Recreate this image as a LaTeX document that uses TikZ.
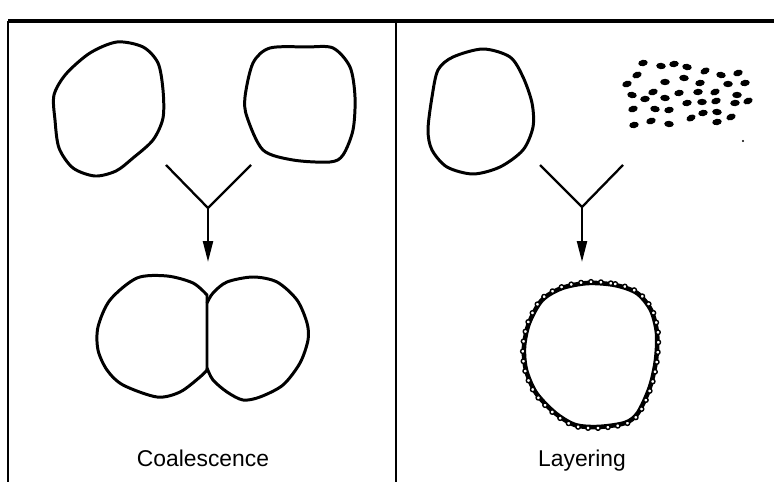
\documentclass[tikz,border=0pt]{standalone}
\usepackage{fontspec}
\setmainfont{Liberation Sans}
\usetikzlibrary{arrows.meta,decorations.markings}

\begin{document}
\begin{tikzpicture}[
  x=0.02cm, y=-0.02cm,
  drop/.style={line width=1.7pt, line join=round},
  frame/.style={line width=1pt},
  arm/.style={line width=1.3pt},
  arr/.style={-{Triangle[length=4.2mm, width=2mm]}, line width=1.3pt},
  lbl/.style={anchor=base, font=\fontsize{13}{15}\selectfont},
  bead/.style={circle, draw, fill=white, line width=0.8pt, inner sep=0pt, minimum size=0.9mm},
  beaded/.style={postaction={decorate, decoration={markings,
      mark=between positions 0 and 1 step 0.022 with {\node[bead] at (0,0.6pt) {};}}}}]
\useasboundingbox (0,0) rectangle (774,482);
\draw[frame, line width=1.8pt] (8,21) -- (774,21);
\draw[frame] (8,21) -- (8,482);
\draw[frame] (396,21) -- (396,482);

% coalescence
\draw[drop] plot[smooth cycle] coordinates {(117,42) (143,47) (158,63) (163,90) (163,118)
  (153,140) (133,158) (116,171) (95,176) (73,168) (59,148) (55,120) (54,95) (66,74) (90,53)};
\draw[drop] plot[smooth cycle] coordinates {(270,48) (307,47) (333,48) (350,67) (355,97)
  (353,130) (343,155) (330,162) (293,160) (263,150) (247,117) (245,97) (253,63)};
\coordinate (la) at (166,165);
\coordinate (ra) at (251,165);
\coordinate (jl) at (208,208);
\coordinate (tl) at (208,262);
\draw[arm] (la) -- (jl) -- (ra);
\draw[arr] (jl) -- (tl);
\draw[drop] plot[smooth] coordinates {(207,295) (193,283) (167,276) (137,278) (110,300)
  (98,327) (98,350) (107,370) (123,385) (157,397) (180,392) (200,377) (207,370)} -- cycle;
\draw[drop] plot[smooth] coordinates {(207,303) (213,293) (227,282) (253,277) (277,282)
  (297,300) (307,323) (308,340) (300,363) (283,385) (260,397) (243,400) (227,392)
  (213,380) (207,368)};
\node[lbl] (coal) at (203,467) {Coalescence};

% layering
\draw[drop] plot[smooth cycle] coordinates {(483,49) (510,57) (523,77) (532,103) (533,127)
  (523,150) (500,167) (473,174) (447,167) (432,150) (428,130) (432,97) (438,70) (453,57)};
\foreach \x/\y/\r in {643/63/10, 661/66/-5, 674/64/8, 687/67/-10, 705/71/25, 721/75/-10,
    738/73/15, 637/75/20, 627/84/15, 665/82/0, 684/78/-5, 700/83/10, 728/84/0, 745/83/10,
    632/95/-10, 653/92/15, 679/93/10, 698/92/5, 715/92/20, 737/95/0, 645/99/5, 665/98/-5,
    687/103/10, 702/102/0, 716/101/15, 735/103/5, 748/101/20, 633/109/15, 655/109/-10,
    669/110/10, 691/118/25, 703/113/10, 717/112/-5, 731/117/20, 634/125/10, 651/121/15,
    669/124/-5, 717/122/10}
  \fill[rotate around={\r:(\x,\y)}] (\x,\y) ellipse[x radius=4.8, y radius=3.2];
\fill (743,141) circle[radius=1.2];
\coordinate (lb) at (540,165);
\coordinate (rb) at (623,165);
\coordinate (jr) at (582,207);
\coordinate (tr) at (582,262);
\draw[arm] (lb) -- (jr) -- (rb);
\draw[arr] (jr) -- (tr);
\draw[drop, line width=2.6pt, beaded] plot[smooth cycle] coordinates {(588,283) (615,285)
  (637,293) (651,310) (657,333) (656,360) (650,387) (638,413) (625,423) (598,427)
  (575,425) (555,413) (536,393) (526,370) (524,347) (529,323) (542,300) (562,288)};
\node[lbl] (layr) at (582,467) {Layering};
\end{tikzpicture}
\end{document}
